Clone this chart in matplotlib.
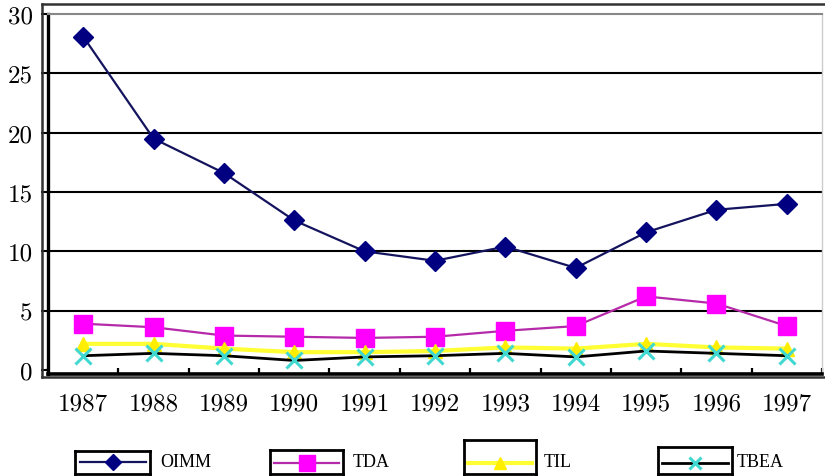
import matplotlib
matplotlib.use("Agg")
import matplotlib.pyplot as plt
from matplotlib.lines import Line2D
import numpy as np

# data
years = ["1987", "1988", "1989", "1990", "1991", "1992", "1993", "1994", "1995", "1996", "1997"]
oimm = [28.1, 19.5, 16.6, 12.6, 10.0, 9.2, 10.4, 8.6, 11.6, 13.5, 14.0]
tda = [3.9, 3.6, 2.9, 2.8, 2.7, 2.8, 3.3, 3.7, 6.2, 5.6, 3.7]
til = [2.2, 2.2, 1.8, 1.5, 1.5, 1.6, 1.9, 1.8, 2.2, 1.9, 1.8]
tbea = [1.2, 1.4, 1.2, 0.8, 1.1, 1.2, 1.4, 1.1, 1.6, 1.4, 1.2]
yticks = [0, 5, 10, 15, 20, 25, 30]

W, H = 825, 477
fig = plt.figure(figsize=(W / 100, H / 100), dpi=100)


def fx(px):
    return px / W


def fy(py):
    return 1 - py / H


# plot area (pixel box 48..822 x 15..375)
ax = fig.add_axes([fx(48), fy(375), fx(822) - fx(48), fy(15) - fy(375)])
x = np.arange(len(years))

series = [
    ("OIMM", oimm, dict(color="#14145e", lw=1.6, marker="D", ms=10, mfc="#000080", mec="#000080")),
    ("TDA", tda, dict(color="#b52aa8", lw=1.6, marker="s", ms=13, mfc="#ff00ff", mec="#ff00ff")),
    ("TIL", til, dict(color="#ffff33", lw=3, marker="^", ms=10, mfc="#ffee00", mec="#ffee00")),
    ("TBEA", tbea, dict(color="black", lw=2, marker="x", ms=11, mew=2.2, mec="#40d8d0")),
]
for name, vals, st in series:
    ax.plot(x, vals, zorder=3, **st)

ax.set_xlim(-0.5, len(years) - 0.5)
ax.set_ylim(-0.34, 30)
ax.set_yticks(yticks)
ax.set_yticklabels([str(t) for t in yticks], fontfamily="cmr10", fontsize=18)
ax.set_xticks(x)
ax.set_xticklabels(years, fontfamily="cmr10", fontsize=18)
ax.set_xticks(np.arange(-0.5, len(years)), minor=True)
ax.tick_params(axis="x", which="major", length=0, pad=13)
ax.tick_params(axis="x", which="minor", direction="in", length=4, width=1.6, color="black")
ax.tick_params(axis="y", length=5, width=1.5, pad=6, color="black")

for t in yticks[1:-1]:
    ax.axhline(t, color="black", lw=1.5, zorder=1)

ax.spines["left"].set_linewidth(2.4)
ax.spines["bottom"].set_linewidth(2.6)
ax.spines["top"].set_color("#888888")
ax.spines["top"].set_linewidth(1.5)
ax.spines["right"].set_color("#cccccc")
ax.spines["right"].set_linewidth(1)

# outer chart-area frame
for xs, ys in [([42, 825], [5, 5]), ([42, 42], [5, 378]), ([42, 825], [378, 378])]:
    fig.add_artist(Line2D([fx(v) for v in xs], [fy(v) for v in ys], color="#333333", lw=1.8))

# separate boxed legend entries below the chart
boxes = [(75, 150, 452), (270, 343, 451), (464, 536, 441), (658, 732, 448)]
text_x = [160, 353, 544, 737]
for (name, vals, st), (x0, x1, top), tx in zip(series, boxes, text_x):
    lax = fig.add_axes([fx(x0), fy(475), fx(x1) - fx(x0), fy(top) - fy(475)])
    lax.set_xlim(0, 1)
    lax.set_ylim(475, top)
    lax.set_xticks([])
    lax.set_yticks([])
    for s in lax.spines.values():
        s.set_linewidth(2)
    sample = dict(st)
    sample["ms"] = st["ms"] * 0.85
    lax.plot([0.06, 0.94], [463.5, 463.5], **{k: v for k, v in sample.items() if k != "marker"}, marker=None)
    lax.plot([0.5], [463.5], linestyle="none", **{k: v for k, v in sample.items() if k not in ("lw", "color")})
    fig.text(fx(tx), fy(463), name, fontfamily="Liberation Serif", fontsize=13, va="center", ha="left")

fig.savefig("out.png", dpi=100)
